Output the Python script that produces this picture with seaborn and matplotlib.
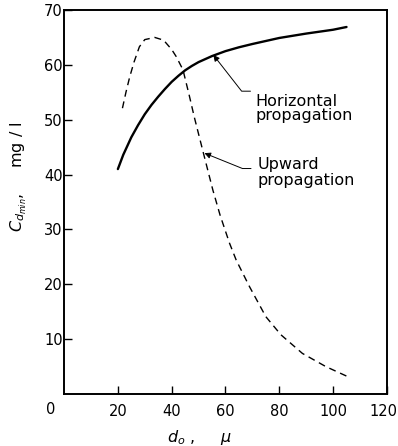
import pandas as pd
import matplotlib
matplotlib.use("Agg")
import matplotlib.pyplot as plt
import matplotlib.transforms as mtransforms
import seaborn as sns

# horizontal propagation (solid curve)
horiz_d = [20, 22, 25, 27.5, 30, 32.5, 35, 37.5, 40, 42.5, 45, 47.5, 50,
           55, 60, 65, 70, 80, 90, 100, 105]
horiz_c = [41, 43.6, 46.8, 49, 51, 52.7, 54.2, 55.6, 56.9, 58, 59, 59.8, 60.5,
           61.6, 62.5, 63.2, 63.8, 64.9, 65.7, 66.4, 66.9]

# upward propagation (dashed curve)
up_d = [21.7, 23, 24.4, 26, 28, 30, 33.7, 37, 40, 41.7, 44.2, 46.5, 48.5,
        51.6, 55.3, 58, 61.5, 64, 68.9, 75, 80.6, 88.6, 97.3, 105.3]
up_c = [52.1, 55, 57.8, 60.5, 63.3, 64.6, 65.0, 64.5, 62.8, 61.5, 59.1, 54.5,
        50.3, 44.3, 37.2, 32.6, 27.5, 24.4, 19.6, 14.1, 10.8, 7.4, 5.0, 3.2]

xticks = [20, 40, 60, 80, 100, 120]
yticks = [10, 20, 30, 40, 50, 60, 70]

df_h = pd.DataFrame({"d": horiz_d, "c": horiz_c})
df_u = pd.DataFrame({"d": up_d, "c": up_c})

sns.set_style("ticks", {"text.color": "black", "axes.labelcolor": "black",
                        "xtick.color": "black", "ytick.color": "black",
                        "axes.edgecolor": "black"})
plt.rcParams["font.family"] = ["DejaVu Sans"]

fig = plt.figure(figsize=(3.98, 4.46), dpi=100)
ax = fig.add_axes([0.161, 0.1166, 0.811, 0.861])

sns.lineplot(data=df_h, x="d", y="c", ax=ax, color="black", lw=1.7, sort=False)
sns.lineplot(data=df_u, x="d", y="c", ax=ax, color="black", lw=1.0,
             sort=False, dashes=False)
ax.lines[-1].set_dashes((5, 3.5))
for ln in ax.lines:
    ln.set_solid_joinstyle("round")
    ln.set_dash_joinstyle("round")

ax.set_xlim(0, 120)
ax.set_ylim(0, 70)
ax.set_xticks(xticks)
ax.set_yticks(yticks)
ax.set_yticklabels([str(t) for t in yticks])
ax.tick_params(direction="in", length=6, width=1, labelsize=10.5,
               color="black", labelcolor="black")
ax.tick_params(axis="x", pad=7)
ax.tick_params(axis="y", pad=1)
for s in ax.spines.values():
    s.set_linewidth(1.4)
    s.set_color("black")

# pull the "120" label in a little so it stays inside the picture
last = ax.get_xticklabels()[-1]
last.set_transform(last.get_transform() +
                   mtransforms.ScaledTranslation(-3 / 100, 0, fig.dpi_scale_trans))

ax.annotate("0", xy=(0, 0), xycoords="data", xytext=(-10, -11.5),
            textcoords="offset points", ha="center", va="center", fontsize=10.5,
            color="black")

ax.set_xlabel(r"$d_o$ ,     $\mu$", fontsize=11.5, color="black")
ax.set_ylabel(r"$C_{d_{min}}$,     mg / l", fontsize=11.5, color="black")
ax.xaxis.label.set_va("center")
ax.xaxis.set_label_coords(0.42, -0.112)
ax.yaxis.set_label_coords(-0.11, 0.565)

# annotations
ax.text(71.1, 54.6, "Horizontal\npropagation", fontsize=11.5, ha="left", va="top",
        linespacing=0.85, color="black")
ax.annotate("", xy=(55.5, 61.8), xytext=(69.3, 55.2),
            arrowprops=dict(arrowstyle="-|>", color="black", lw=0.7,
                            shrinkA=0, shrinkB=0, mutation_scale=9,
                            connectionstyle="angle,angleA=0,angleB=128,rad=0"))
ax.text(71.9, 43.2, "Upward\npropagation", fontsize=11.5, ha="left", va="top",
        linespacing=1.05, color="black")
ax.annotate("", xy=(52.2, 43.9), xytext=(69.5, 41.1),
            arrowprops=dict(arrowstyle="-|>", color="black", lw=0.7,
                            shrinkA=0, shrinkB=0, mutation_scale=9,
                            connectionstyle="angle,angleA=0,angleB=158,rad=0"))

fig.savefig("out.png", dpi=100)
